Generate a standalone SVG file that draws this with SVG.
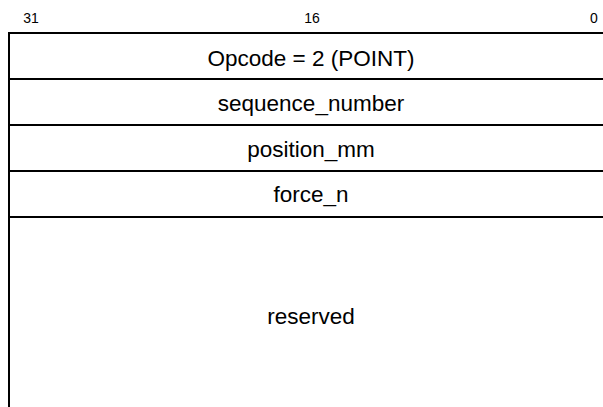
<svg xmlns="http://www.w3.org/2000/svg" width="603" height="407" viewBox="0 0 603 407">
  <style>
    .field { fill: none; stroke: #000; stroke-width: 2; }
    .lbl { font-family: "Liberation Sans", Arial, sans-serif; font-size: 22.5px; fill: #000; text-anchor: middle; }
    .bit { font-family: "Liberation Sans", Arial, sans-serif; font-size: 14px; fill: #000; text-anchor: middle; }
  </style>
  <rect width="603" height="407" fill="#fff"/>

  <!-- bit positions -->
  <g id="bits">
    <text class="bit" x="31" y="23">31</text>
    <text class="bit" x="312" y="23">16</text>
    <text class="bit" x="594" y="23">0</text>
  </g>

  <!-- packet fields, each row spans the full 32-bit width -->
  <g id="opcode">
    <rect class="field" x="9" y="33" width="610" height="46"/>
    <text class="lbl" x="311" y="66">Opcode = 2 (POINT)</text>
  </g>
  <g id="sequence_number">
    <rect class="field" x="9" y="79" width="610" height="46"/>
    <text class="lbl" x="311" y="111">sequence_number</text>
  </g>
  <g id="position_mm">
    <rect class="field" x="9" y="125" width="610" height="46"/>
    <text class="lbl" x="311" y="157">position_mm</text>
  </g>
  <g id="force_n">
    <rect class="field" x="9" y="171" width="610" height="46"/>
    <text class="lbl" x="311" y="202">force_n</text>
  </g>
  <g id="reserved">
    <rect class="field" x="9" y="217" width="610" height="200"/>
    <text class="lbl" x="311" y="324">reserved</text>
  </g>
</svg>
